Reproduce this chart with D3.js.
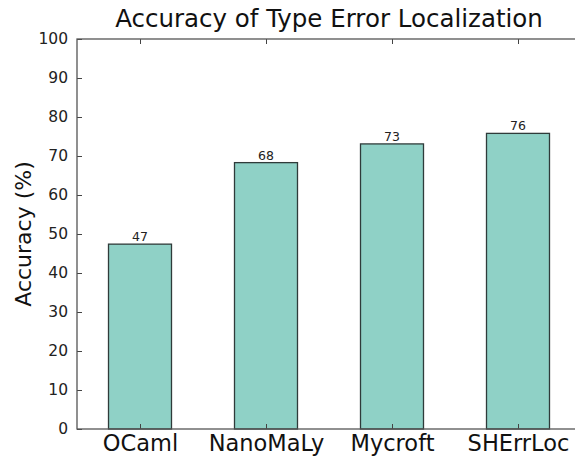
<!DOCTYPE html>
<html>
<head>
<meta charset="utf-8">
<script src="https://cdn.jsdelivr.net/npm/d3@7"></script>
<style>
  body { margin: 0; background: #fff; }
  svg { display: block; font-family: "DejaVu Sans", sans-serif; }
</style>
</head>
<body>
<svg width="575" height="457"></svg>
<script>
// chart data
const tools = ["OCaml", "NanoMaLy", "Mycroft", "SHErrLoc"];
const accuracy = [47.4, 68.3, 73.1, 75.8];
const yTicks = [0, 10, 20, 30, 40, 50, 60, 70, 80, 90, 100];

let svg = d3.select("svg");
let plotLeft = 77, plotTop = 39, plotRight = 581, plotBottom = 429;

//x runs from -0.5 to 3.5 like matplotlib bar default limits
let xScale = d3.scaleLinear().domain([-0.5, tools.length - 0.5]).range([plotLeft, plotRight]);
let yScale = d3.scaleLinear().domain([0, 100]).range([plotBottom, plotTop]);
let barW = xScale(0.25) - xScale(-0.25);

let g = svg.append("g");

// bars
g.selectAll(".bar")
  .data(accuracy)
  .enter()
  .append("rect")
  .attr("class", "bar")
  .attr("x", (d, i) => xScale(i) - barW / 2)
  .attr("y", d => yScale(d))
  .attr("width", barW)
  .attr("height", d => yScale(0) - yScale(d))
  .attr("fill", "#8fd1c6")
  .attr("stroke", "#2f3b3a")
  .attr("stroke-width", 1.3);

// value labels on top
g.selectAll(".label")
  .data(accuracy)
  .enter()
  .append("text")
  .attr("class", "label")
  .attr("x", (d, i) => xScale(i))
  .attr("y", d => yScale(d) - 3)
  .attr("text-anchor", "middle")
  .attr("font-size", 12.5)
  .attr("fill", "#222")
  .text(d => Math.round(d));

// y axis, ticks inside
let yAxis = g.append("g")
  .attr("transform", "translate(" + plotLeft + ",0)")
  .call(d3.axisLeft(yScale).tickValues(yTicks).tickSize(-5).tickPadding(9));
yAxis.selectAll("text").attr("font-size", 15.5).attr("fill", "#222").attr("font-family", "DejaVu Sans");

// x axis bottom, ticks inside
let xAxis = g.append("g")
  .attr("transform", "translate(0," + plotBottom + ")")
  .call(d3.axisBottom(xScale).tickValues(d3.range(tools.length)).tickSize(-5).tickPadding(8)
    .tickFormat(i => tools[i]));
xAxis.selectAll("text").attr("font-size", 22.5).attr("fill", "#111").attr("font-family", "DejaVu Sans").attr("dy", "0.62em");

// top axis, ticks only
g.append("g")
  .attr("transform", "translate(0," + plotTop + ")")
  .call(d3.axisTop(xScale).tickValues(d3.range(tools.length)).tickSize(-5).tickFormat(""));

g.selectAll(".domain").remove();
g.selectAll(".tick line").attr("stroke", "#444");

// spines
g.append("rect")
  .attr("x", plotLeft).attr("y", plotTop)
  .attr("width", plotRight - plotLeft).attr("height", plotBottom - plotTop)
  .attr("fill", "none").attr("stroke", "#555").attr("stroke-width", 1.3);

// title
svg.append("text")
  .attr("x", (plotLeft + plotRight) / 2)
  .attr("y", 27)
  .attr("text-anchor", "middle")
  .attr("font-size", 24.5)
  .attr("fill", "#111")
  .text("Accuracy of Type Error Localization");

// y label
svg.append("text")
  .attr("transform", "translate(31," + (plotTop + plotBottom) / 2 + ") rotate(-90)")
  .attr("text-anchor", "middle")
  .attr("font-size", 22)
  .attr("fill", "#111")
  .text("Accuracy (%)");
</script>
</body>
</html>
